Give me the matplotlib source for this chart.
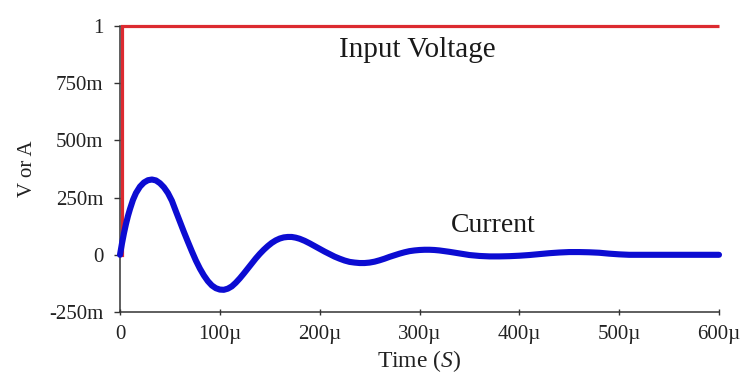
import matplotlib
matplotlib.use("Agg")
import matplotlib.pyplot as plt

plt.rcParams["font.family"] = ["Liberation Serif", "DejaVu Serif"]
plt.rcParams["mathtext.fontset"] = "custom"
plt.rcParams["mathtext.rm"] = "Liberation Serif"
plt.rcParams["mathtext.it"] = "Liberation Serif:italic"

# Step input voltage (time in microseconds, volts)
voltage_t = [0, 2, 2, 600]
voltage_v = [0, 0, 1, 1]

# Damped current response (time in microseconds, amps)
current_t = [0, 2, 4, 6, 8, 10, 13, 16, 20, 24, 28, 32, 36, 40, 44, 48, 52,
             56, 60, 64, 68, 72, 76, 80, 84, 88, 92, 96, 100, 104, 108, 112,
             116, 120, 124, 128, 132, 136, 140, 144, 148, 152, 156, 160, 164,
             168, 172, 176, 180, 185, 190, 195, 200, 205, 210, 215, 220, 225,
             230, 235, 240, 245, 250, 255, 260, 265, 270, 275, 280, 285, 290,
             295, 300, 305, 310, 315, 320, 330, 340, 350, 360, 370, 380, 390,
             400, 410, 420, 430, 440, 450, 460, 470, 480, 490, 500, 510, 550,
             600]
current_i = [0.0, 0.05, 0.095, 0.135, 0.17, 0.20, 0.24, 0.27, 0.298, 0.316,
             0.326, 0.329, 0.325, 0.313, 0.295, 0.27, 0.236, 0.19, 0.145, 0.1,
             0.057, 0.015, -0.025, -0.06, -0.09, -0.115, -0.134, -0.146,
             -0.152, -0.153, -0.148, -0.138, -0.122, -0.103, -0.082, -0.06,
             -0.038, -0.016, 0.004, 0.022, 0.038, 0.052, 0.063, 0.071, 0.076,
             0.078, 0.078, 0.075, 0.07, 0.061, 0.05, 0.038, 0.026, 0.014,
             0.003, -0.008, -0.017, -0.025, -0.031, -0.034, -0.036, -0.036,
             -0.034, -0.03, -0.024, -0.017, -0.009, -0.002, 0.005, 0.011,
             0.016, 0.019, 0.021, 0.022, 0.022, 0.021, 0.019, 0.013, 0.006,
             -0.001, -0.005, -0.007, -0.007, -0.006, -0.004, -0.001, 0.003,
             0.007, 0.01, 0.012, 0.012, 0.011, 0.009, 0.005, 0.002, 0.0, 0.0,
             0.0]

x_ticks = [0, 100, 200, 300, 400, 500, 600]
x_labels = ["0", "100\u00b5", "200\u00b5", "300\u00b5", "400\u00b5", "500\u00b5", "600\u00b5"]
y_ticks = [-0.25, 0, 0.25, 0.5, 0.75, 1.0]
y_labels = ["-250m", "0", "250m", "500m", "750m", "1"]

fig = plt.figure(figsize=(7.41, 3.83), dpi=100)
ax = fig.add_axes([120 / 741, 1 - 312 / 383, (719 - 120) / 741, (312 - 26) / 383])

ax.plot(voltage_t, voltage_v, color="#dc2a30", lw=2.3, clip_on=False,
        solid_capstyle="butt", solid_joinstyle="miter", zorder=3)
ax.plot(current_t, current_i, color="#0c0cd2", lw=4.4, clip_on=False,
        solid_capstyle="round", solid_joinstyle="round", zorder=4)

ax.set_xlim(0, 600)
ax.set_ylim(-0.25, 1.0)
ax.set_xticks(x_ticks)
ax.set_xticklabels(x_labels)
ax.set_yticks(y_ticks)
ax.set_yticklabels(y_labels)

for side in ("top", "right"):
    ax.spines[side].set_visible(False)
for side in ("left", "bottom"):
    ax.spines[side].set_color("#333333")
    ax.spines[side].set_linewidth(1.1)

ax.tick_params(axis="x", direction="inout", length=5, width=1, color="#333333",
               labelsize=15, pad=7, labelcolor="#222222")
ax.tick_params(axis="y", direction="out", length=4, width=1, color="#333333",
               labelsize=15, pad=8, labelcolor="#222222")

ax.set_xlabel("Time ($\\mathit{S}$)", fontsize=17, color="#222222", labelpad=3)
ax.set_ylabel("V or A", fontsize=15, color="#222222", labelpad=9)

ax.text(298, 0.895, "Input Voltage", fontsize=21, ha="center", va="center",
        color="#1a1a1a")
ax.text(374, 0.13, "Current", fontsize=20, ha="center", va="center",
        color="#1a1a1a")

fig.savefig("out.png", dpi=100)
